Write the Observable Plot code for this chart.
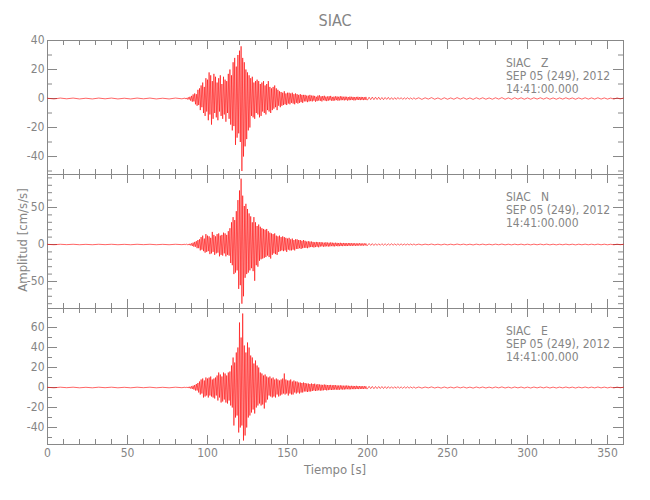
<!DOCTYPE html>
<html>
<head>
<meta charset="utf-8">
<script src="https://cdn.jsdelivr.net/npm/d3@7"></script>
<script src="https://cdn.jsdelivr.net/npm/@observablehq/plot@0.6"></script>
<style>
  html, body { margin: 0; padding: 0; background: #fff; }
  #wrap { position: relative; width: 650px; height: 500px; overflow: hidden; font-family: "DejaVu Sans Condensed", "DejaVu Sans", sans-serif; color: #858585; }
  #wrap svg { position: absolute; left: 0; overflow: visible; }
  .lbl { position: absolute; white-space: nowrap; font-size: 12px; color: #858585; line-height: 1; }
</style>
</head>
<body>
<div id="wrap"></div>
<script>
// ---------------- data ----------------
const titulo = "SIAC";
const estacion = "SIAC";
const componentes = ["Z", "N", "E"];
const fecha = "SEP 05 (249), 2012";
const hora = "14:41:00.000";
const xTicks = [0, 50, 100, 150, 200, 250, 300, 350];
const yTicksZ = [-40, -20, 0, 20, 40];
const yTicksN = [-50, 0, 50];
const yTicksE = [-40, -20, 0, 20, 40, 60];
const yDomZ = [-52.4, 40];
const yDomN = [-86.5, 94.6];
const yDomE = [-57, 79];

// quiet record before the event (t = 0, 4, ..., 84 s)
const ruidoPre = [0.2,-0.3,0.3,-0.2,0.3,-0.3,0.2,-0.3,0.3,-0.2,0.3,-0.3,0.2,-0.3,0.3,-0.2,0.3,-0.3,0.2,-0.3,0.3,-0.2];
// quiet record after the event (t = 232, 234, ..., 360 s)
const ruidoPost = [0.5,-0.6,0.5,-0.4,0.6,-0.5,0.4,-0.6,0.5,-0.5,0.4,-0.5,0.6,-0.4,0.5,-0.5,0.4,-0.6,0.5,-0.4,0.5,-0.5,0.4,-0.5,0.5,-0.4,0.6,-0.5,0.4,-0.5,0.5,-0.4,0.5,-0.5,0.4,-0.5,0.5,-0.4,0.5,-0.4,0.5,-0.5,0.4,-0.5,0.4,-0.4,0.5,-0.4,0.4,-0.5,0.4,-0.4,0.5,-0.4,0.4,-0.4,0.5,-0.4,0.4,-0.4,0.3,-0.4,0.4,-0.3,0.3];

// strong motion + early coda, every 0.5 s from t = 86 s to t = 199.5 s
const fuerteZ = [
 0.3,-0.4,0.4,-0.6,0.8,-0.7,1.2,-1.5,1.8,-2.2,
 2.8,-2,3.5,-4,3,-5,6,-4.5,7,-8,
 9,-6,11,-10,8,-12,14,-9,13,-15,
 18,-11,16,-18,12,-14,17,-10,15,-13,
 11,-15,14,-9,16,-12,10,-14,15,-11,
 13,-16,12,-10,17,-14,20,-18,16,-22,
 25,-19,28,-32,22,-27,30,-24,33,-30,
 36,-50,28,-40,25,-33,20,-28,18,-22,
 16,-20,14,-12,15,-13,11,-14,12,-10,
 13,-11,12,-13,10,-12,11,-9,12,-10,
 9,-11,10,-8,12,-9,8,-10,7,-8,
 8,-7,9,-6,7,-8,6,-5,5,-6,
 4.5,-5,4,-4.5,5,-4,3.5,-4.5,4,-3.5,
 4,-4,3.5,-3,4,-3.5,3,-4,3.5,-3,
 3,-3.5,2.5,-3,3,-2.5,2.5,-3,2.5,-2,
 2.5,-2,2,-2.5,2,-2,2.5,-1.8,2,-2,
 2,-1.5,1.8,-2.2,1.2,-1.8,2,-1.4,2.2,-1.6,
 1.5,-2,1.7,-1.2,1.9,-1.5,1.3,-1.8,1.4,-1.5,
 1.6,-1.2,1.8,-1.5,1.1,-1.6,1.3,-1.4,1.5,-1.1,
 1.4,-1.5,1.2,-1.3,1.6,-1.2,1.4,-1.1,1.2,-1.3,
 1.3,-1.1,1.2,-1.4,1,-1.2,1.3,-1.1,1.2,-1,
 1.1,-1.3,1,-1.2,1.1,-0.9,1.2,-1,1,-1.1,
 1.1,-0.9,1,-1.1,0.9,-1,1.1,-0.9];
// late coda, every 1 s from t = 200 s to t = 230 s
const codaZ = [
 -1,0.9,-0.8,1,-0.8,0.9,-0.7,0.9,-0.8,0.7,
 -0.8,0.7,-0.6,0.8,-0.7,0.6,-0.7,0.6,-0.6,0.7,
 -0.5,0.6,-0.6,0.5,-0.5,0.6,-0.5,0.4,-0.5,0.5,-0.4];

const fuerteN = [
 0.3,-0.4,0.5,-0.5,0.7,-0.8,1,-1.2,1.5,-2,
 2.5,-3,3.5,-3,4.5,-5,6,-5,7,-8,
 10,-7,12,-9,8,-11,14,-10,12,-9,
 11,-13,9,-12,17,-10,13,-14,11,-12,
 14,-11,15,-16,12,-14,13,-15,16,-12,
 15,-16,13,-14,18,-15,22,-25,30,-28,
 37,-40,33,-38,45,-35,60,-60,73,-55,
 89,-80,66,-70,52,-45,55,-40,48,-38,
 42,-35,38,-32,30,-36,37,-49,30,-28,
 25,-30,27,-22,24,-20,22,-19,21,-18,
 20,-17,21,-15,18,-17,16,-19,15,-14,
 14,-12,15,-13,12,-14,11,-10,12,-9,
 10,-8,11,-9,10,-8,9,-10,8,-7,
 9,-8,7,-8,8,-7,6,-8,7,-6,
 7,-6,6,-5,6,-6,5,-5,6,-4.5,
 5,-4.5,4,-5,4.5,-4,4,-3.5,4,-3.5,
 3.5,-4,3,-3.5,3.5,-3,3.2,-3.8,3,-2.8,
 3.2,-2.5,2.8,-3,2.5,-2.8,3,-2.4,2.6,-2.8,
 2.4,-2.6,2.8,-2.2,2.5,-2.4,2.2,-2.6,2.4,-2,
 2.2,-2.4,2,-2.2,2.3,-2,1.9,-2.2,2.1,-1.8,
 2,-2.1,1.8,-2,1.9,-1.7,2,-1.8,1.7,-1.9,
 1.8,-1.6,1.7,-1.8,1.5,-1.7,1.6,-1.5,1.7,-1.5,
 1.5,-1.6,1.4,-1.5,1.5,-1.3,1.4,-1.4];
const codaN = [
 -1.3,1.4,-1.2,1.2,-1.3,1.1,-1.2,1,-1.1,1.1,
 -1,1,-1.1,0.9,-1,1,-0.9,0.8,-0.9,0.9,
 -0.8,0.8,-0.8,0.7,-0.8,0.7,-0.7,0.7,-0.6,0.7,-0.6];

const fuerteE = [
 0.3,-0.3,0.4,-0.5,0.6,-0.6,0.8,-1,1.2,-1.4,
 1.8,-2,2.5,-3,3.5,-3,4.5,-5,6,-7,
 8,-6,9,-10,7,-9,10,-8,9,-10,
 10,-8,11,-9,8,-10,9,-11,10,-8,
 12,-13,15,-10,13,-15,11,-14,15,-12,
 14,-15,12,-16,15,-13,16,-18,22,-20,
 30,-38,25,-30,35,-28,40,-45,65,-40,
 50,-38,74,-53,42,-48,35,-40,45,-30,
 40,-28,32,-25,30,-22,24,-26,27,-20,
 22,-18,20,-16,15,-18,14,-17,12,-21,
 13,-15,11,-12,10,-8,11,-9,9,-10,
 10,-9,8,-10,9,-7,8,-9,7,-8,
 8,-7,9,-6,14,-7,8,-6,7,-8,
 7,-6,8,-7,6,-7,7,-5,6,-6,
 6,-5,5,-6,5,-5,4.5,-5,5,-4,
 4.5,-4,4,-4.5,4,-4,3.5,-4,4,-3.5,
 3.5,-3,3.8,-3.5,3,-3.2,3.4,-2.8,3,-3.2,
 2.8,-3,2.6,-2.8,3,-2.5,2.7,-2.9,2.4,-2.6,
 2.5,-2.3,2.6,-2.5,2.2,-2.4,2.5,-2.1,2.3,-2.2,
 2.1,-2.3,2,-2.2,2.2,-1.9,2,-2.1,1.8,-2,
 1.9,-1.8,2,-1.7,1.8,-1.9,1.6,-1.8,1.7,-1.6,
 1.6,-1.7,1.5,-1.6,1.7,-1.5,1.4,-1.6,1.5,-1.4,
 1.4,-1.5,1.3,-1.4,1.4,-1.3,1.2,-1.3];
const codaE = [
 -1.2,1.2,-1.1,1.1,-1.2,1,-1.1,1,-1,1,
 -1,0.9,-1,0.9,-0.9,0.8,-0.9,0.8,-0.8,0.9,
 -0.8,0.7,-0.8,0.7,-0.7,0.7,-0.7,0.6,-0.6,0.6,-0.6];

// ---------------- helpers ----------------
function traza(fuerte, coda) {
  const pts = [];
  ruidoPre.forEach((v, i) => pts.push({t: i * 4, a: v}));
  fuerte.forEach((v, i) => pts.push({t: 86 + i * 0.5, a: v}));
  coda.forEach((v, i) => pts.push({t: 200 + i, a: v}));
  ruidoPost.forEach((v, i) => { const t = 232 + i * 2; if (t <= 360) pts.push({t, a: v}); });
  return pts;
}
const gris = "#888888";
const txt = "#858585";
const FONT = '"DejaVu Sans Condensed", "DejaVu Sans", sans-serif';
const L = 47, R = 27;
const PW = 650 - L - R;
const xMinor = d3.range(0, 361, 10);

function panel({fuerte, coda, yDom, yTicks, yMinorStep, top, h, mt, mb, bottomAxis}) {
  const [y0, y1] = yDom;
  const yMinor = d3.range(Math.ceil(y0 / yMinorStep) * yMinorStep, y1 + 0.001, yMinorStep);
  const plotH = h - mt - mb;
  const xm = xMinor.filter(d => !xTicks.includes(d));
  const ym = yMinor.filter(d => !yTicks.includes(d));
  const marks = [
    Plot.frame({stroke: gris, strokeWidth: 1}),
    Plot.tickX(xm, {x: d => d, stroke: gris, insetBottom: plotH - 5}),
    Plot.tickX(xTicks, {x: d => d, stroke: gris, insetBottom: plotH - 9}),
    Plot.tickX(xm, {x: d => d, stroke: gris, insetTop: plotH - 5}),
    Plot.tickX(xTicks, {x: d => d, stroke: gris, insetTop: plotH - 9}),
    Plot.tickY(ym, {y: d => d, stroke: gris, insetRight: PW - 5}),
    Plot.tickY(yTicks, {y: d => d, stroke: gris, insetRight: PW - 10}),
    Plot.tickY(ym, {y: d => d, stroke: gris, insetLeft: PW - 5}),
    Plot.tickY(yTicks, {y: d => d, stroke: gris, insetLeft: PW - 10}),
    Plot.axisY(yTicks, {tickSize: 0, tickPadding: 3, tickFormat: d => String(d), fontSize: 12, fill: txt, label: null}),
    Plot.line(traza(fuerte, coda), {x: "t", y: "a", stroke: "#ff0000", strokeWidth: 0.6}),
  ];
  if (bottomAxis) {
    marks.push(Plot.axisX(xTicks, {tickSize: 0, tickPadding: 4, tickFormat: d => String(d), fontSize: 12, fill: txt, label: null}));
  } else {
    marks.push(Plot.axisX({ticks: [], label: null}));
  }
  const svg = Plot.plot({
    width: 650, height: h,
    marginLeft: L, marginRight: R, marginTop: mt, marginBottom: mb,
    style: {fontFamily: FONT, color: txt, background: "transparent"},
    x: {domain: [0, 360]},
    y: {domain: yDom},
    marks
  });
  svg.style.top = top + "px";
  return svg;
}

const wrap = document.getElementById("wrap");
wrap.appendChild(panel({fuerte: fuerteZ, coda: codaZ, yDom: yDomZ, yTicks: yTicksZ, yMinorStep: 10, top: 0, h: 174, mt: 40, mb: 0}));
wrap.appendChild(panel({fuerte: fuerteN, coda: codaN, yDom: yDomN, yTicks: yTicksN, yMinorStep: 10, top: 174, h: 134, mt: 0, mb: 0}));
wrap.appendChild(panel({fuerte: fuerteE, coda: codaE, yDom: yDomE, yTicks: yTicksE, yMinorStep: 10, top: 308, h: 192, mt: 0, mb: 56, bottomAxis: true}));

function lbl(text, x, y, opts = {}) {
  const d = document.createElement("div");
  d.className = "lbl";
  d.textContent = text;
  d.style.left = x + "px";
  d.style.top = y + "px";
  Object.assign(d.style, opts);
  wrap.appendChild(d);
  return d;
}
// title
lbl(titulo, 335, 13, {fontSize: "16px", transform: "translateX(-50%)"});
// x label
lbl("Tiempo [s]", 335, 463, {fontSize: "13px", transform: "translateX(-50%)"});
// y label
lbl("Amplitud [cm/s/s]", 22, 240, {fontSize: "13px", transform: "translate(-50%,-50%) rotate(-90deg)"});
// panel annotations
const tops = [57, 191, 325];
componentes.forEach((c, i) => {
  lbl(estacion + "\u00a0\u00a0\u00a0" + c, 506, tops[i]);
  lbl(fecha, 506, tops[i] + 13);
  lbl(hora, 506, tops[i] + 26);
});
</script>
</body>
</html>
